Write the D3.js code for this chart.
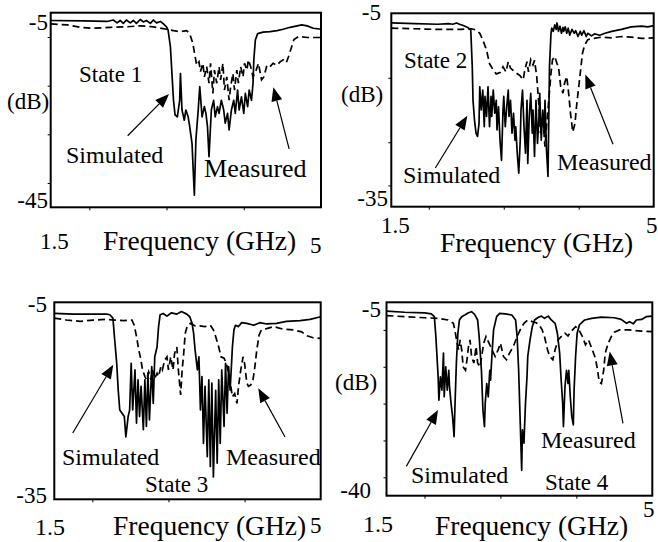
<!DOCTYPE html>
<html>
<head>
<meta charset="utf-8">
<script src="https://cdn.jsdelivr.net/npm/d3@7"></script>
<style>
  body { margin: 0; background: #fff; }
  svg { display: block; font-family: "Liberation Serif", "Times New Roman", serif; }
</style>
</head>
<body>
<svg id="chart" width="658" height="542"></svg>
<script>
// frequency axis shared by all four states (GHz)
const freqDomain = [1.5, 5]
const freqTicks = [2, 3, 4]

// [frequency GHz, dB]
const state1Sim = [[1.5,-6.6],[1.92,-6.7],[2.23,-6.8],[2.31,-6.5],[2.36,-7.1],[2.40,-6.6],[2.44,-7.2],[2.48,-6.5],[2.53,-7.1],[2.57,-6.6],[2.61,-7.2],[2.66,-6.4],[2.70,-6.9],[2.74,-6.6],[2.79,-7.2],[2.83,-6.5],[2.87,-7.1],[2.92,-6.8],[2.96,-7.3],[3.00,-7.9],[3.02,-8.6],[3.05,-12.0],[3.07,-17.5],[3.09,-23.0],[3.11,-26.0],[3.14,-26.4],[3.17,-23.0],[3.18,-17.5],[3.20,-25.0],[3.23,-27.1],[3.25,-25.0],[3.28,-26.4],[3.30,-28.4],[3.33,-31.9],[3.36,-42.5],[3.38,-31.2],[3.41,-25.0],[3.43,-20.2],[3.46,-26.4],[3.49,-24.3],[3.51,-25.7],[3.53,-28.4],[3.55,-34.6],[3.58,-25.0],[3.61,-23.0],[3.63,-26.4],[3.66,-24.3],[3.68,-25.7],[3.71,-23.0],[3.74,-25.0],[3.76,-27.7],[3.79,-25.7],[3.81,-29.1],[3.84,-25.0],[3.87,-23.0],[3.89,-25.7],[3.92,-20.9],[3.94,-25.0],[3.97,-22.3],[4.00,-25.7],[4.02,-21.6],[4.05,-24.3],[4.07,-20.9],[4.10,-23.0],[4.12,-19.5],[4.13,-14.7],[4.15,-10.6],[4.18,-9.3],[4.25,-9.0],[4.34,-8.9],[4.43,-8.7],[4.51,-8.4],[4.60,-8.0],[4.69,-7.7],[4.75,-7.5],[4.82,-7.7],[4.90,-8.2],[5.0,-8.4]]
const state1Meas = [[1.5,-7.3],[1.71,-7.5],[1.88,-8.0],[2.05,-8.2],[2.27,-8.0],[2.48,-7.9],[2.66,-7.7],[2.83,-7.9],[3.00,-8.4],[3.09,-8.7],[3.18,-8.9],[3.26,-8.7],[3.30,-9.3],[3.34,-11.3],[3.37,-14.0],[3.39,-15.8],[3.42,-15.1],[3.44,-17.1],[3.47,-15.4],[3.49,-18.2],[3.52,-16.1],[3.55,-19.5],[3.57,-15.4],[3.60,-21.6],[3.62,-16.8],[3.65,-19.5],[3.68,-16.1],[3.70,-18.8],[3.73,-15.4],[3.75,-20.9],[3.78,-18.2],[3.81,-23.0],[3.83,-20.2],[3.86,-17.5],[3.88,-20.9],[3.91,-16.8],[3.93,-19.5],[3.96,-16.1],[3.99,-18.2],[4.01,-15.4],[4.04,-16.8],[4.06,-14.7],[4.09,-16.1],[4.12,-18.2],[4.16,-16.8],[4.19,-15.4],[4.23,-18.8],[4.26,-18.2],[4.30,-15.8],[4.34,-16.1],[4.38,-15.4],[4.43,-15.8],[4.47,-15.1],[4.51,-14.7],[4.55,-15.3],[4.58,-14.0],[4.62,-12.0],[4.65,-10.5],[4.71,-9.9],[4.82,-10.1],[5.0,-10.1]]

const state2Sim = [[1.5,-6.5],[1.81,-6.6],[2.12,-6.7],[2.26,-6.6],[2.32,-6.7],[2.37,-6.5],[2.41,-6.7],[2.46,-6.9],[2.52,-7.2],[2.56,-7.6],[2.58,-13.3],[2.59,-18.5],[2.61,-21.6],[2.63,-23.6],[2.65,-24.1],[2.67,-22.1],[2.68,-16.4],[2.70,-20.0],[2.72,-16.9],[2.74,-22.6],[2.75,-17.9],[2.77,-21.0],[2.79,-16.4],[2.81,-22.6],[2.83,-17.9],[2.84,-21.0],[2.86,-16.9],[2.88,-20.5],[2.90,-18.5],[2.91,-23.1],[2.93,-19.5],[2.95,-24.7],[2.97,-27.8],[2.99,-20.0],[3.00,-17.9],[3.02,-22.6],[3.04,-19.5],[3.06,-16.9],[3.07,-21.0],[3.09,-18.5],[3.11,-23.6],[3.13,-20.5],[3.15,-24.7],[3.16,-22.6],[3.18,-26.7],[3.20,-29.8],[3.22,-24.7],[3.23,-20.0],[3.25,-16.9],[3.27,-22.6],[3.29,-26.7],[3.31,-18.5],[3.32,-28.3],[3.34,-21.0],[3.36,-17.4],[3.38,-23.6],[3.39,-20.0],[3.41,-27.2],[3.43,-18.5],[3.45,-25.2],[3.47,-21.0],[3.48,-17.4],[3.50,-24.7],[3.52,-20.0],[3.54,-23.6],[3.55,-18.5],[3.57,-26.2],[3.59,-30.3],[3.61,-13.3],[3.63,-8.1],[3.64,-7.3],[3.66,-7.8],[3.68,-6.8],[3.70,-7.5],[3.71,-6.5],[3.73,-7.8],[3.75,-7.0],[3.77,-8.1],[3.79,-7.2],[3.80,-7.8],[3.82,-7.1],[3.84,-8.1],[3.86,-7.3],[3.88,-8.4],[3.91,-7.5],[3.94,-8.1],[3.96,-7.7],[3.99,-8.6],[4.02,-7.8],[4.04,-8.4],[4.07,-7.7],[4.10,-8.6],[4.12,-8.1],[4.17,-8.5],[4.21,-8.2],[4.28,-8.4],[4.35,-8.1],[4.44,-7.8],[4.57,-7.5],[4.70,-7.1],[4.84,-7.0],[4.92,-7.1],[5.0,-6.9]]
const state2Meas = [[1.5,-7.3],[1.81,-7.4],[2.12,-7.5],[2.43,-7.5],[2.57,-7.4],[2.63,-7.6],[2.68,-8.1],[2.72,-9.1],[2.77,-10.7],[2.81,-12.8],[2.86,-13.8],[2.90,-14.4],[2.95,-14.2],[2.99,-13.3],[3.03,-14.1],[3.06,-12.5],[3.09,-13.5],[3.12,-13.8],[3.17,-14.3],[3.21,-14.6],[3.26,-15.3],[3.28,-13.8],[3.31,-12.5],[3.33,-14.1],[3.36,-12.2],[3.39,-13.0],[3.41,-12.3],[3.44,-14.8],[3.47,-19.5],[3.49,-23.6],[3.52,-21.0],[3.55,-25.7],[3.57,-22.6],[3.60,-18.5],[3.63,-14.3],[3.65,-12.2],[3.68,-11.7],[3.71,-12.8],[3.73,-13.3],[3.76,-16.4],[3.79,-17.4],[3.81,-15.9],[3.84,-14.8],[3.87,-17.9],[3.89,-20.5],[3.92,-23.4],[3.95,-22.1],[3.97,-19.5],[4.00,-16.4],[4.03,-13.3],[4.05,-11.2],[4.08,-9.9],[4.12,-9.1],[4.19,-8.9],[4.30,-8.7],[4.44,-8.8],[4.57,-8.6],[4.70,-8.7],[4.84,-8.9],[5.0,-8.8]]

const state3Sim = [[1.5,-6.7],[1.75,-6.8],[2.01,-6.8],[2.19,-6.8],[2.23,-6.9],[2.27,-7.4],[2.29,-10.2],[2.32,-14.3],[2.34,-18.4],[2.36,-21.4],[2.39,-21.9],[2.42,-22.4],[2.44,-25.5],[2.47,-22.4],[2.49,-21.4],[2.51,-14.3],[2.53,-21.4],[2.56,-15.3],[2.58,-23.4],[2.60,-16.8],[2.62,-22.4],[2.64,-17.8],[2.67,-24.4],[2.69,-16.8],[2.71,-23.9],[2.73,-15.8],[2.75,-22.9],[2.78,-14.8],[2.80,-20.4],[2.82,-13.3],[2.85,-11.8],[2.87,-8.7],[2.89,-6.9],[2.93,-6.7],[2.98,-7.1],[3.04,-6.6],[3.11,-6.8],[3.17,-6.4],[3.24,-6.8],[3.28,-7.2],[3.31,-8.2],[3.33,-9.7],[3.35,-12.3],[3.38,-15.3],[3.40,-13.3],[3.42,-21.4],[3.44,-16.3],[3.46,-26.5],[3.48,-17.8],[3.51,-28.5],[3.53,-16.8],[3.55,-30.0],[3.57,-17.3],[3.59,-31.6],[3.62,-18.4],[3.64,-29.5],[3.66,-16.8],[3.68,-26.5],[3.70,-15.3],[3.73,-23.9],[3.75,-14.3],[3.77,-21.9],[3.79,-14.8],[3.81,-18.4],[3.84,-11.8],[3.86,-9.2],[3.88,-8.5],[3.92,-8.7],[3.96,-8.1],[4.03,-8.2],[4.12,-8.5],[4.20,-8.1],[4.29,-8.3],[4.42,-8.2],[4.55,-7.9],[4.73,-7.8],[4.86,-7.6],[5.0,-7.2]]
const state3Meas = [[1.5,-7.4],[1.66,-7.7],[1.84,-7.9],[2.01,-7.7],[2.19,-7.6],[2.30,-7.7],[2.41,-7.8],[2.52,-7.7],[2.55,-8.5],[2.58,-10.2],[2.61,-12.3],[2.63,-13.3],[2.66,-15.3],[2.69,-16.3],[2.71,-16.8],[2.74,-15.6],[2.77,-16.8],[2.79,-15.3],[2.82,-16.6],[2.85,-15.8],[2.87,-16.3],[2.90,-14.8],[2.92,-15.3],[2.95,-13.8],[2.98,-13.3],[3.00,-15.3],[3.03,-13.3],[3.06,-15.3],[3.08,-12.8],[3.11,-11.8],[3.13,-15.3],[3.16,-19.1],[3.18,-15.3],[3.20,-12.8],[3.22,-9.7],[3.25,-8.5],[3.29,-8.2],[3.35,-8.6],[3.41,-8.6],[3.48,-8.7],[3.55,-8.5],[3.59,-9.2],[3.62,-10.2],[3.66,-11.8],[3.69,-13.3],[3.73,-13.5],[3.76,-14.3],[3.80,-16.3],[3.84,-19.4],[3.87,-18.9],[3.90,-20.4],[3.92,-17.8],[3.95,-15.3],[3.98,-13.3],[4.00,-14.3],[4.03,-17.3],[4.05,-17.8],[4.08,-17.6],[4.11,-16.8],[4.13,-15.3],[4.16,-12.3],[4.19,-10.0],[4.22,-9.2],[4.29,-9.0],[4.38,-8.7],[4.51,-9.1],[4.64,-9.2],[4.75,-9.5],[4.82,-10.1],[4.90,-10.4],[5.0,-10.5]]

const state4Sim = [[1.5,-6.6],[1.74,-6.8],[2.00,-6.9],[2.09,-7.1],[2.13,-7.6],[2.15,-11.2],[2.18,-18.5],[2.19,-22.7],[2.21,-18.5],[2.23,-20.9],[2.25,-14.2],[2.26,-22.1],[2.28,-16.7],[2.30,-20.9],[2.32,-17.3],[2.33,-20.3],[2.35,-23.3],[2.37,-25.7],[2.39,-29.3],[2.40,-24.5],[2.42,-16.0],[2.44,-10.6],[2.46,-8.2],[2.49,-7.6],[2.53,-7.3],[2.58,-6.9],[2.62,-6.7],[2.66,-7.2],[2.70,-8.2],[2.72,-11.2],[2.75,-17.3],[2.77,-24.5],[2.79,-27.5],[2.80,-23.3],[2.82,-19.7],[2.84,-22.1],[2.86,-17.3],[2.87,-19.1],[2.89,-14.2],[2.91,-10.0],[2.95,-7.6],[2.99,-7.0],[3.06,-7.1],[3.15,-7.3],[3.20,-8.2],[3.22,-11.2],[3.24,-17.3],[3.26,-26.3],[3.28,-35.4],[3.29,-28.1],[3.31,-30.5],[3.33,-23.3],[3.35,-18.5],[3.36,-14.8],[3.39,-11.8],[3.42,-9.4],[3.45,-8.2],[3.50,-7.7],[3.54,-7.5],[3.58,-7.9],[3.63,-7.5],[3.67,-8.2],[3.72,-8.8],[3.75,-10.6],[3.78,-14.2],[3.80,-19.1],[3.82,-23.3],[3.83,-27.5],[3.85,-20.3],[3.87,-17.3],[3.89,-19.7],[3.90,-17.3],[3.92,-22.1],[3.94,-25.7],[3.96,-27.2],[3.97,-20.9],[3.99,-14.8],[4.01,-10.6],[4.04,-9.1],[4.11,-8.2],[4.20,-7.9],[4.33,-7.7],[4.50,-7.8],[4.59,-8.1],[4.66,-8.8],[4.70,-8.5],[4.75,-8.9],[4.79,-8.2],[4.86,-8.1],[4.92,-7.6],[5.0,-7.5]]
const state4Meas = [[1.5,-7.4],[1.74,-7.6],[2.00,-7.8],[2.18,-7.9],[2.31,-8.2],[2.38,-8.8],[2.40,-10.0],[2.43,-12.4],[2.45,-13.6],[2.47,-11.8],[2.49,-13.6],[2.51,-16.7],[2.54,-17.3],[2.56,-15.4],[2.58,-13.0],[2.60,-11.8],[2.62,-14.8],[2.65,-16.0],[2.68,-13.0],[2.70,-16.0],[2.73,-16.7],[2.75,-15.1],[2.78,-12.4],[2.81,-11.2],[2.83,-11.8],[2.87,-13.0],[2.90,-13.9],[2.93,-14.8],[2.97,-13.6],[3.00,-12.4],[3.04,-14.8],[3.08,-15.4],[3.12,-14.2],[3.17,-13.0],[3.22,-11.2],[3.26,-10.0],[3.31,-8.8],[3.36,-8.2],[3.42,-8.5],[3.47,-8.7],[3.51,-9.1],[3.55,-10.0],[3.58,-11.2],[3.62,-13.6],[3.65,-14.8],[3.69,-15.4],[3.72,-13.6],[3.76,-11.8],[3.80,-11.2],[3.85,-10.6],[3.89,-11.1],[3.93,-10.3],[3.99,-9.4],[4.03,-9.9],[4.08,-11.2],[4.12,-12.7],[4.16,-11.8],[4.21,-13.6],[4.25,-15.1],[4.28,-17.3],[4.30,-19.4],[4.33,-19.7],[4.36,-17.3],[4.38,-14.2],[4.42,-12.4],[4.46,-11.2],[4.50,-10.4],[4.57,-10.0],[4.68,-10.0],[4.86,-10.2],[5.0,-10.3]]

// y ranges and left ticks per state
const yDomains = [[-45, -5], [-35, -5], [-35, -5], [-40, -5]]
const yTicks = [[-40, -30, -20, -10], [-31.7, -25, -15], [], [-36.67, -30, -23.33, -16.67, -10]]
const yEndLabels = [['-45', '-5'], ['-35', '-5'], ['-35', '-5'], ['-40', '-5']]

const panels = [
  {
    sim: state1Sim, meas: state1Meas, yDomain: yDomains[0], yTicks: yTicks[0],
    box: { x0: 50.7, y0: 12.7, x1: 321, y1: 207.3 },
    texts: [
      { t: yEndLabels[0][1], x: 48, y: 30, a: 'end', s: 23 },
      { t: yEndLabels[0][0], x: 48, y: 208, a: 'end', s: 23 },
      { t: '(dB)', x: 7, y: 109, s: 23 },
      { t: '1.5', x: 40, y: 249, s: 23 },
      { t: 'Frequency (GHz)', x: 103, y: 250, s: 27.5 },
      { t: '5', x: 310, y: 253, s: 23 }
    ],
    notes: [
      { t: 'State 1', f: 1.866, db: -19.3, s: 23 },
      { t: 'Simulated', f: 1.698, db: -35.9, s: 24 },
      { t: 'Measured', f: 3.486, db: -38.8, s: 26 }
    ],
    arrows: [
      { from: [2.497, -30.3], to: [3.032, -21.7] },
      { from: [4.587, -33.0], to: [4.383, -20.3] }
    ]
  },
  {
    sim: state2Sim, meas: state2Meas, yDomain: yDomains[1], yTicks: yTicks[1],
    box: { x0: 391.3, y0: 13.3, x1: 653.7, y1: 206.7 },
    texts: [
      { t: yEndLabels[1][1], x: 381, y: 20, a: 'end', s: 23 },
      { t: yEndLabels[1][0], x: 388, y: 206, a: 'end', s: 23 },
      { t: '(dB)', x: 341, y: 102, s: 23 },
      { t: '1.5', x: 381, y: 233, s: 23 },
      { t: 'Frequency (GHz)', x: 440, y: 252, s: 27.5 },
      { t: '5', x: 646, y: 233, s: 23 }
    ],
    notes: [
      { t: 'State 2', f: 1.669, db: -13.5, s: 23 },
      { t: 'Simulated', f: 1.656, db: -31.3, s: 24 },
      { t: 'Measured', f: 3.710, db: -29.3, s: 24 }
    ],
    arrows: [
      { from: [2.087, -29.0], to: [2.514, -20.9] },
      { from: [4.457, -25.3], to: [4.088, -14.5] }
    ]
  },
  {
    sim: state3Sim, meas: state3Meas, yDomain: yDomains[2], yTicks: yTicks[2],
    box: { x0: 54.3, y0: 302.3, x1: 320.7, y1: 499.3 },
    texts: [
      { t: yEndLabels[2][1], x: 47, y: 312, a: 'end', s: 23 },
      { t: yEndLabels[2][0], x: 47, y: 503, a: 'end', s: 23 },
      { t: '1.5', x: 35, y: 535, s: 24 },
      { t: 'Frequency (GHz)', x: 113, y: 535, s: 27.5 },
      { t: '5', x: 310, y: 533, s: 23 }
    ],
    notes: [
      { t: 'Simulated', f: 1.601, db: -29.8, s: 24 },
      { t: 'Measured', f: 3.756, db: -29.8, s: 24 },
      { t: 'State 3', f: 2.692, db: -33.9, s: 23 }
    ],
    arrows: [
      { from: [1.742, -24.9], to: [2.275, -14.5] },
      { from: [4.531, -25.5], to: [4.180, -18.1] }
    ]
  },
  {
    sim: state4Sim, meas: state4Meas, yDomain: yDomains[3], yTicks: yTicks[3],
    box: { x0: 386.5, y0: 302.3, x1: 652.3, y1: 495.7 },
    texts: [
      { t: yEndLabels[3][1], x: 381, y: 317, a: 'end', s: 23 },
      { t: yEndLabels[3][0], x: 371, y: 498, a: 'end', s: 23 },
      { t: '(dB)', x: 335, y: 390, s: 23 },
      { t: '1.5', x: 363, y: 532, s: 24 },
      { t: 'Frequency (GHz)', x: 435, y: 535, s: 27.5 },
      { t: '5', x: 643, y: 517, s: 23 }
    ],
    notes: [
      { t: 'Simulated', f: 1.823, db: -37.7, s: 24 },
      { t: 'Measured', f: 3.535, db: -31.4, s: 24 },
      { t: 'State 4', f: 3.588, db: -39.0, s: 23 }
    ],
    arrows: [
      { from: [1.761, -34.7], to: [2.178, -24.5] },
      { from: [4.614, -26.9], to: [4.439, -13.9] }
    ]
  }
]

const svg = d3.select('#chart')

panels.forEach(p => {
  const xScale = d3.scaleLinear().domain(freqDomain).range([p.box.x0, p.box.x1])
  const yScale = d3.scaleLinear().domain(p.yDomain).range([p.box.y1, p.box.y0])
  const g = svg.append('g')

  // ticks outside the frame
  g.append('g')
    .attr('transform', 'translate(0,' + p.box.y1 + ')')
    .call(d3.axisBottom(xScale).tickValues(freqTicks).tickSize(3).tickFormat(''))
    .call(a => a.select('.domain').remove())
  g.append('g')
    .attr('transform', 'translate(' + p.box.x0 + ',0)')
    .call(d3.axisLeft(yScale).tickValues(p.yTicks).tickSize(3).tickFormat(''))
    .call(a => a.select('.domain').remove())
  g.selectAll('.tick line').attr('stroke', '#000').attr('stroke-width', 1)

  const line = d3
    .line()
    .x(d => xScale(d[0]))
    .y(d => yScale(d[1]))

  g.append('path')
    .datum(p.meas)
    .attr('d', line)
    .attr('fill', 'none')
    .attr('stroke', '#000')
    .attr('stroke-width', 1.7)
    .attr('stroke-dasharray', '7,4')

  g.append('path')
    .datum(p.sim)
    .attr('d', line)
    .attr('fill', 'none')
    .attr('stroke', '#000')
    .attr('stroke-width', 1.7)
    .attr('stroke-linejoin', 'round')

  // frame
  g.append('rect')
    .attr('x', p.box.x0)
    .attr('y', p.box.y0)
    .attr('width', p.box.x1 - p.box.x0)
    .attr('height', p.box.y1 - p.box.y0)
    .attr('fill', 'none')
    .attr('stroke', '#000')
    .attr('stroke-width', 2)

  p.texts.forEach(t => {
    g.append('text')
      .attr('x', t.x)
      .attr('y', t.y)
      .attr('text-anchor', t.a || 'start')
      .attr('font-size', t.s)
      .attr('fill', '#000')
      .text(t.t)
  })

  p.notes.forEach(n => {
    g.append('text')
      .attr('x', xScale(n.f))
      .attr('y', yScale(n.db))
      .attr('font-size', n.s)
      .attr('fill', '#000')
      .text(n.t)
  })

  // arrows: thin shaft + filled triangular head
  p.arrows.forEach(ar => {
    const x1 = xScale(ar.from[0]), y1 = yScale(ar.from[1])
    const x2 = xScale(ar.to[0]), y2 = yScale(ar.to[1])
    const ang = Math.atan2(y2 - y1, x2 - x1)
    const len = 14, half = 5.5
    const bx = x2 - len * Math.cos(ang), by = y2 - len * Math.sin(ang)
    g.append('line')
      .attr('x1', x1).attr('y1', y1)
      .attr('x2', bx).attr('y2', by)
      .attr('stroke', '#000')
      .attr('stroke-width', 1.2)
    g.append('path')
      .attr('d', d3.line()([
        [x2, y2],
        [bx + half * Math.sin(ang), by - half * Math.cos(ang)],
        [bx - half * Math.sin(ang), by + half * Math.cos(ang)]
      ]) + 'Z')
      .attr('fill', '#000')
  })
})
</script>
</body>
</html>
